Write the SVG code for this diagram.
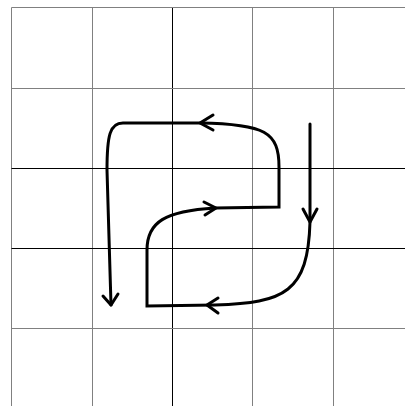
<svg xmlns="http://www.w3.org/2000/svg" width="405" height="406" viewBox="0 0 405 406">
<style>
.g{stroke:#808080;stroke-width:1;fill:none}
.gd{stroke:#000;stroke-width:1;fill:none}
.p{stroke:#000;stroke-width:3;fill:none;stroke-linejoin:miter;stroke-linecap:round}
.a{stroke:#000;stroke-width:3;fill:none;stroke-linejoin:round;stroke-linecap:round}
</style>
<rect width="405" height="406" fill="#fff"/>
<g id="grid">
<line class="g" x1="11.5" y1="7.5" x2="11.5" y2="406"/>
<line class="g" x1="92.5" y1="7.5" x2="92.5" y2="406"/>
<line class="gd" x1="172.5" y1="7.5" x2="172.5" y2="406"/>
<line class="g" x1="252.5" y1="7.5" x2="252.5" y2="406"/>
<line class="g" x1="333.5" y1="7.5" x2="333.5" y2="406"/>
<line class="g" x1="11.5" y1="7.5" x2="405" y2="7.5"/>
<line class="g" x1="11.5" y1="88.5" x2="405" y2="88.5"/>
<line class="gd" x1="11.5" y1="168.5" x2="405" y2="168.5"/>
<line class="gd" x1="11.5" y1="248.5" x2="405" y2="248.5"/>
<line class="g" x1="11.5" y1="328.5" x2="405" y2="328.5"/>
</g>
<g id="connectors">
<path class="p" d="M310,124 L310,222 C308,292 285,303 215,305 L147,306 L147,250 C147,222 165,211 215,208 L279,207 L279,167 C279,132 265,124 200,123 L123,123 C110,123 107,135 107,170 L111,305"/>
<polyline class="a" points="213,115 200,123 213,130"/>
<polyline class="a" points="303,209 310,222 317,209"/>
<polyline class="a" points="204,202 216,208 205,215"/>
<polyline class="a" points="218,298 207,305 218,313"/>
<polyline class="a" points="103,296 111,305 118,294"/>
</g>
</svg>
